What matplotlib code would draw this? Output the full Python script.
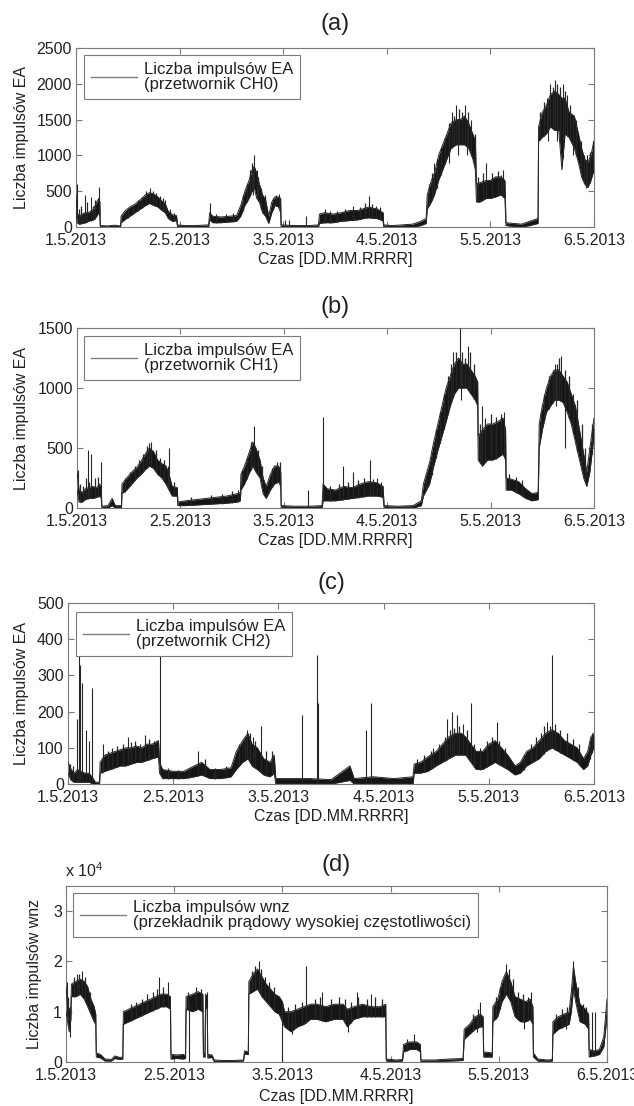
import matplotlib
matplotlib.use("Agg")
import numpy as np
import matplotlib.pyplot as plt
from matplotlib.lines import Line2D
from matplotlib.ticker import FuncFormatter

plt.rcParams['font.family'] = ['Liberation Sans', 'DejaVu Sans']
plt.rcParams['mathtext.fontset'] = 'custom'
plt.rcParams['mathtext.rm'] = 'Liberation Sans'
plt.rcParams['mathtext.it'] = 'Liberation Sans'

# ---------------- data (time in days from 1.5.2013 00:00) ----------------
day_ticks = [0, 1, 2, 3, 4, 5]
day_labels = ["1.5.2013", "2.5.2013", "3.5.2013", "4.5.2013", "5.5.2013", "6.5.2013"]
titles = ["(a)", "(b)", "(c)", "(d)"]
xlabel = "Czas [DD.MM.RRRR]"
ylabels = ["Liczba impulsów EA", "Liczba impulsów EA", "Liczba impulsów EA", "Liczba impulsów wnz"]
legend_labels = ["Liczba impulsów EA\n(przetwornik CH0)",
                 "Liczba impulsów EA\n(przetwornik CH1)",
                 "Liczba impulsów EA\n(przetwornik CH2)",
                 "Liczba impulsów wnz\n(przekładnik prądowy wysokiej częstotliwości)"]

# panel (a) CH0: band lower / upper envelope
t_a = [0.00, 0.01, 0.03, 0.06, 0.09, 0.12, 0.14, 0.17, 0.20, 0.22,
       0.23, 0.235, 0.30, 0.37, 0.43, 0.435, 0.47, 0.52, 0.57, 0.62,
       0.67, 0.71, 0.75, 0.79, 0.83, 0.86, 0.89, 0.93, 0.97, 0.98,
       1.05, 1.15, 1.28, 1.29, 1.32, 1.40, 1.48, 1.55, 1.59, 1.63,
       1.67, 1.70, 1.72, 1.745, 1.77, 1.80, 1.83, 1.86, 1.89, 1.92,
       1.955, 1.975, 1.98, 2.10, 2.25, 2.34, 2.35, 2.40, 2.48, 2.56,
       2.64, 2.72, 2.78, 2.83, 2.87, 2.90, 2.94, 2.965, 2.97, 3.05,
       3.15, 3.25, 3.33, 3.38, 3.39, 3.43, 3.46, 3.50, 3.54, 3.58,
       3.62, 3.67, 3.71, 3.75, 3.79, 3.83, 3.855, 3.865, 3.90, 3.96,
       4.00, 4.05, 4.10, 4.14, 4.15, 4.22, 4.30, 4.38, 4.46, 4.465,
       4.50, 4.54, 4.58, 4.62, 4.66, 4.69, 4.72, 4.76, 4.81, 4.85,
       4.88, 4.91, 4.94, 4.97, 5.00]
lo_a = [250, 60, 40, 50, 60, 80, 90, 100, 150, 200,
        150, 0, 0, 0, 0, 60, 100, 150, 200, 250,
        300, 330, 300, 280, 230, 200, 120, 80, 90, 0,
        0, 0, 0, 100, 60, 60, 70, 80, 150, 300,
        400, 500, 550, 400, 350, 200, 150, 50, 200, 300,
        280, 200, 0, 0, 0, 0, 50, 60, 60, 80,
        90, 100, 120, 130, 120, 120, 100, 80, 0, 0,
        0, 0, 20, 50, 250, 350, 450, 650, 800, 950,
        1100, 1150, 1150, 1150, 1100, 950, 800, 350, 350, 400,
        400, 420, 450, 400, 20, 10, 0, 20, 50, 1200,
        1250, 1300, 1400, 1350, 1350, 800, 1300, 1250, 1100, 900,
        700, 600, 550, 650, 800]
hi_a = [450, 200, 150, 180, 200, 200, 220, 250, 350, 400,
        350, 20, 15, 25, 15, 150, 220, 280, 320, 380,
        450, 480, 460, 420, 360, 330, 220, 170, 160, 30,
        20, 20, 30, 200, 150, 140, 150, 160, 300, 500,
        650, 800, 850, 750, 600, 450, 380, 150, 350, 420,
        420, 400, 30, 20, 20, 30, 180, 200, 180, 200,
        230, 230, 260, 280, 260, 260, 220, 200, 30, 20,
        30, 40, 80, 120, 450, 650, 750, 1000, 1150, 1300,
        1450, 1500, 1500, 1550, 1450, 1300, 1200, 600, 620, 650,
        650, 700, 700, 650, 60, 50, 40, 80, 120, 1400,
        1600, 1700, 1850, 1900, 1850, 1800, 1800, 1600, 1550, 1300,
        1100, 950, 900, 1000, 1200]
spike_t_a = [0.005, 0.09, 0.14, 0.22, 0.71, 0.86, 1.29, 1.72, 1.745, 1.955,
             2.02, 2.06, 2.22, 2.40, 2.67, 2.83, 2.90, 3.46, 3.63, 3.67,
             3.75, 3.81, 3.96, 4.12, 4.55, 4.58, 4.62, 4.70, 4.74, 5.00]
spike_v_a = [600, 450, 420, 560, 540, 380, 330, 1000, 800, 460,
             100, 100, 150, 250, 300, 430, 300, 900, 1600, 1700,
             1700, 1500, 900, 800, 1800, 2000, 2050, 2000, 1850, 1400]
peak_t_a = [0.03, 0.05, 0.07, 0.11, 0.16, 0.18, 0.50, 0.55, 0.60, 0.64,
            0.68, 0.74, 0.77, 0.81, 0.84, 0.91, 0.95, 1.35, 1.45, 1.52,
            1.61, 1.65, 1.68, 1.70, 1.76, 1.79, 1.82, 1.90, 1.93, 2.45,
            2.52, 2.60, 2.74, 2.79, 2.86, 2.93, 3.41, 3.44, 3.48, 3.52,
            3.56, 3.60, 3.65, 3.70, 3.73, 3.78, 3.85, 3.88, 3.93, 4.02,
            4.07, 4.10, 4.48, 4.52, 4.60, 4.64, 4.67, 4.72, 4.77, 4.83,
            4.87, 4.90, 4.93, 4.96, 4.99]
peak_v_a = [250, 300, 200, 350, 300, 380, 260, 300, 380, 420,
            500, 500, 470, 430, 400, 250, 200, 180, 180, 200,
            450, 600, 800, 900, 700, 550, 450, 400, 450, 220,
            230, 250, 280, 330, 320, 280, 600, 750, 950, 1100,
            1250, 1450, 1550, 1650, 1600, 1600, 1300, 700, 750, 750,
            780, 720, 1600, 1750, 1950, 2000, 1950, 1900, 1700, 1500,
            1200, 1000, 1000, 1050, 1200]
dip_t_a = [1.71, 3.60, 3.69, 3.77, 4.56, 4.64, 4.80, 4.92]
dip_v_a = [450, 900, 1000, 1000, 1200, 1200, 1000, 550]

# panel (b) CH1
t_b = [0.00, 0.02, 0.05, 0.08, 0.11, 0.15, 0.19, 0.22, 0.235, 0.24,
       0.30, 0.34, 0.37, 0.43, 0.435, 0.48, 0.53, 0.58, 0.62, 0.66,
       0.70, 0.74, 0.78, 0.82, 0.86, 0.89, 0.92, 0.97, 0.975, 1.05,
       1.15, 1.25, 1.35, 1.45, 1.55, 1.58, 1.585, 1.62, 1.66, 1.70,
       1.73, 1.77, 1.80, 1.83, 1.87, 1.91, 1.95, 1.97, 1.975, 2.10,
       2.25, 2.37, 2.38, 2.42, 2.50, 2.58, 2.66, 2.74, 2.82, 2.90,
       2.96, 2.97, 3.10, 3.25, 3.33, 3.35, 3.41, 3.45, 3.49, 3.53,
       3.57, 3.61, 3.65, 3.69, 3.73, 3.77, 3.81, 3.85, 3.875, 3.88,
       3.92, 3.97, 4.02, 4.07, 4.12, 4.145, 4.15, 4.20, 4.27, 4.34,
       4.40, 4.46, 4.47, 4.50, 4.54, 4.58, 4.62, 4.66, 4.70, 4.74,
       4.78, 4.82, 4.86, 4.90, 4.93, 4.96, 5.00]
lo_b = [150, 50, 50, 70, 80, 80, 90, 100, 80, 0,
        0, 20, 0, 0, 120, 150, 200, 250, 280, 320,
        350, 330, 280, 250, 200, 150, 100, 100, 20, 20,
        25, 30, 35, 40, 50, 60, 150, 200, 280, 350,
        300, 250, 120, 80, 150, 200, 220, 180, 0, 0,
        0, 0, 60, 60, 60, 70, 80, 90, 100, 100,
        90, 0, 0, 0, 20, 100, 200, 350, 480, 600,
        720, 850, 950, 1000, 1000, 1000, 950, 900, 850, 400,
        350, 400, 400, 420, 450, 400, 150, 150, 120, 80,
        60, 70, 500, 650, 800, 850, 900, 900, 880, 800,
        700, 550, 400, 250, 180, 300, 600]
hi_b = [300, 150, 130, 160, 170, 180, 170, 200, 150, 15,
        20, 80, 20, 20, 200, 250, 300, 340, 390, 450,
        500, 470, 400, 370, 350, 280, 180, 170, 50, 60,
        70, 80, 90, 100, 120, 130, 280, 350, 450, 550,
        500, 400, 250, 180, 280, 350, 350, 300, 20, 15,
        15, 20, 200, 160, 150, 180, 170, 200, 220, 210,
        180, 20, 15, 20, 60, 200, 380, 550, 700, 850,
        1000, 1100, 1200, 1250, 1200, 1200, 1150, 1100, 1050, 600,
        650, 700, 700, 720, 750, 650, 250, 240, 220, 160,
        120, 130, 700, 850, 1000, 1100, 1150, 1150, 1100, 1050,
        950, 850, 650, 450, 300, 500, 750]
spike_t_b = [0.005, 0.105, 0.14, 0.23, 0.72, 0.885, 1.56, 1.71, 2.23, 2.38,
             2.57, 2.67, 2.83, 2.90, 3.64, 3.70, 3.78, 3.92, 4.13, 4.62,
             4.68, 4.80]
spike_v_b = [320, 480, 450, 380, 550, 500, 150, 680, 150, 760,
             350, 300, 400, 250, 1300, 1500, 1350, 850, 800, 1200,
             1270, 950]
peak_t_b = [0.03, 0.06, 0.09, 0.12, 0.17, 0.20, 0.46, 0.51, 0.56, 0.60,
            0.64, 0.68, 0.70, 0.76, 0.80, 0.84, 0.88, 0.94, 1.10, 1.30,
            1.40, 1.50, 1.60, 1.64, 1.68, 1.75, 1.79, 1.89, 1.93, 1.96,
            2.45, 2.53, 2.62, 2.72, 2.78, 2.86, 2.94, 3.38, 3.43, 3.47,
            3.51, 3.55, 3.59, 3.62, 3.67, 3.72, 3.75, 3.80, 3.84, 3.90,
            3.95, 4.00, 4.05, 4.10, 4.18, 4.25, 4.30, 4.49, 4.52, 4.56,
            4.60, 4.64, 4.66, 4.72, 4.76, 4.84, 4.88, 4.91, 4.98]
peak_v_b = [200, 180, 250, 220, 250, 260, 250, 300, 350, 400,
            450, 520, 540, 480, 420, 400, 350, 220, 90, 110,
            120, 140, 320, 420, 550, 480, 350, 330, 380, 380,
            180, 200, 220, 230, 250, 240, 220, 250, 450, 650,
            800, 950, 1100, 1200, 1300, 1300, 1250, 1300, 1200, 700,
            750, 780, 760, 780, 280, 260, 230, 800, 950, 1100,
            1150, 1200, 1250, 1150, 1100, 900, 700, 500, 700]
dip_t_b = [3.71, 4.63, 4.72]
dip_v_b = [900, 850, 500]

# panel (c) CH2
t_c = [0.00, 0.03, 0.06, 0.09, 0.12, 0.16, 0.20, 0.24, 0.26, 0.30,
       0.305, 0.35, 0.40, 0.45, 0.50, 0.55, 0.60, 0.65, 0.70, 0.75,
       0.80, 0.86, 0.87, 0.90, 1.00, 1.10, 1.20, 1.27, 1.35, 1.45,
       1.55, 1.60, 1.66, 1.71, 1.75, 1.80, 1.86, 1.92, 1.96, 1.975,
       2.10, 2.30, 2.50, 2.68, 2.72, 2.90, 3.10, 3.28, 3.29, 3.35,
       3.42, 3.50, 3.56, 3.62, 3.68, 3.74, 3.78, 3.83, 3.88, 3.94,
       4.00, 4.06, 4.12, 4.18, 4.25, 4.30, 4.36, 4.42, 4.48, 4.54,
       4.60, 4.66, 4.72, 4.78, 4.84, 4.90, 4.94, 4.97, 5.00]
lo_c = [30, 10, 5, 5, 5, 5, 5, 0, 0, 0,
        30, 35, 40, 45, 50, 50, 55, 60, 60, 65,
        70, 75, 30, 15, 15, 15, 20, 25, 15, 15,
        20, 40, 60, 70, 50, 40, 25, 20, 30, 0,
        0, 0, 0, 10, 0, 0, 0, 0, 30, 30,
        35, 50, 60, 70, 80, 80, 80, 60, 40, 40,
        50, 60, 50, 40, 25, 30, 50, 60, 70, 90,
        100, 90, 80, 70, 60, 40, 50, 80, 100]
hi_c = [60, 40, 30, 40, 35, 30, 30, 15, 5, 5,
        60, 80, 85, 90, 95, 100, 100, 105, 100, 110,
        110, 120, 60, 40, 35, 35, 50, 60, 40, 40,
        45, 90, 120, 140, 110, 100, 70, 60, 80, 15,
        15, 15, 12, 50, 15, 20, 15, 20, 55, 60,
        75, 90, 110, 130, 140, 140, 130, 110, 90, 90,
        110, 120, 100, 80, 50, 60, 90, 100, 120, 140,
        150, 140, 120, 110, 100, 70, 90, 130, 140]
spike_t_c = [0.085, 0.10, 0.115, 0.13, 0.17, 0.20, 0.23, 0.33, 0.57, 0.73,
             0.873, 1.24, 1.70, 1.76, 1.83, 2.22, 2.37, 2.38, 2.83, 2.88,
             3.47, 3.60, 3.65, 3.70, 3.75, 3.83, 4.08, 4.55, 4.60, 4.98]
spike_v_c = [180, 365, 330, 280, 150, 120, 265, 110, 130, 135,
             365, 90, 150, 130, 160, 190, 355, 225, 150, 225,
             100, 180, 200, 190, 165, 225, 170, 170, 355, 140]
peak_t_c = [0.02, 0.05, 0.32, 0.38, 0.42, 0.47, 0.52, 0.60, 0.64, 0.68,
            0.77, 0.82, 0.95, 1.05, 1.15, 1.30, 1.40, 1.50, 1.63, 1.68,
            1.73, 1.78, 1.88, 1.94, 3.32, 3.38, 3.45, 3.53, 3.58, 3.63,
            3.67, 3.72, 3.79, 3.86, 3.92, 3.98, 4.03, 4.10, 4.15, 4.33,
            4.40, 4.45, 4.50, 4.52, 4.58, 4.63, 4.68, 4.74, 4.80, 4.86,
            4.96]
peak_v_c = [55, 50, 70, 90, 100, 105, 110, 115, 120, 110,
            125, 120, 45, 40, 45, 70, 45, 50, 110, 130,
            140, 120, 90, 90, 70, 80, 90, 110, 130, 150,
            155, 160, 150, 110, 100, 120, 130, 120, 100, 80,
            110, 130, 140, 160, 160, 165, 150, 140, 125, 110,
            120]

# panel (d) wnz (counts)
t_d = [0.00, 0.015, 0.03, 0.045, 0.05, 0.09, 0.13, 0.17, 0.20, 0.23,
       0.26, 0.275, 0.28, 0.32, 0.36, 0.42, 0.45, 0.50, 0.525, 0.53,
       0.58, 0.63, 0.68, 0.73, 0.78, 0.83, 0.88, 0.93, 0.965, 0.97,
       1.02, 1.08, 1.105, 1.11, 1.17, 1.22, 1.265, 1.27, 1.285, 1.29,
       1.305, 1.31, 1.35, 1.37, 1.45, 1.55, 1.64, 1.65, 1.685, 1.69,
       1.73, 1.77, 1.81, 1.85, 1.89, 1.93, 1.97, 2.00, 2.02, 2.08,
       2.14, 2.20, 2.26, 2.32, 2.40, 2.48, 2.56, 2.60, 2.66, 2.74,
       2.82, 2.90, 2.955, 2.96, 3.05, 3.11, 3.12, 3.18, 3.24, 3.275,
       3.28, 3.40, 3.55, 3.67, 3.68, 3.73, 3.78, 3.83, 3.855, 3.86,
       3.94, 3.945, 3.99, 4.03, 4.07, 4.11, 4.15, 4.20, 4.25, 4.29,
       4.315, 4.32, 4.36, 4.45, 4.495, 4.50, 4.55, 4.60, 4.65, 4.67,
       4.69, 4.71, 4.75, 4.80, 4.83, 4.835, 4.88, 4.93, 4.97, 5.00]
lo_d = [10000, 8000, 6000, 8500, 13000, 13000, 13500, 12500, 11000, 9500,
        8000, 7500, 1000, 800, 200, 200, 700, 500, 600, 7500,
        8000, 8500, 9000, 9500, 10000, 10500, 11000, 11000, 10500, 600,
        700, 600, 700, 10500, 10000, 10500, 10000, 1000, 1000, 11000,
        10500, 800, 900, 100, 100, 100, 200, 1500, 1500, 13500,
        14000, 14500, 13000, 12000, 11000, 10000, 9500, 8000, 7000, 6000,
        7000, 7500, 8500, 8500, 8000, 8500, 8500, 7000, 8500, 9000,
        9000, 9000, 9000, 200, 100, 200, 2000, 2500, 2500, 2000,
        100, 100, 200, 300, 4500, 5500, 6500, 7000, 7000, 1000,
        1000, 8000, 9000, 12000, 13500, 12000, 9000, 8000, 8000, 8500,
        7500, 1000, 200, 100, 200, 5500, 6500, 7000, 7500, 10000,
        14500, 12000, 8000, 7500, 6500, 1000, 1200, 1500, 3000, 9000]
hi_d = [15000, 11000, 10500, 11000, 15500, 16000, 16500, 16000, 15000, 12500,
        11000, 9500, 1800, 1500, 600, 500, 1200, 900, 1000, 10000,
        10500, 11000, 11500, 12000, 12500, 13000, 13500, 13500, 13000, 1500,
        1400, 1500, 1300, 13000, 13500, 14000, 13500, 1800, 1600, 13500,
        13000, 1500, 1400, 400, 300, 300, 400, 2200, 2000, 16000,
        17500, 18500, 17000, 15500, 14500, 13500, 13000, 12000, 10000, 10000,
        10500, 11000, 11500, 11500, 11000, 11500, 11500, 10500, 11000, 11500,
        11000, 11000, 11500, 600, 400, 500, 3500, 4000, 4000, 3500,
        400, 400, 600, 700, 6500, 7500, 9000, 9500, 9000, 2000,
        1800, 11000, 12500, 16000, 18000, 16000, 13000, 12500, 12000, 12500,
        11000, 1800, 600, 400, 500, 8000, 9000, 9500, 10000, 14000,
        19000, 16000, 11500, 10500, 9500, 2500, 2200, 2500, 5000, 12500]
spike_t_d = [0.005, 0.10, 0.15, 0.86, 0.94, 1.20, 1.30, 1.78, 2.22, 2.37,
             2.69, 2.82, 3.22, 3.83, 4.07, 4.30, 4.69, 4.86, 4.89, 5.00]
spike_v_d = [16000, 17500, 18000, 17000, 16000, 15000, 14000, 20000, 19000, 14000,
             14000, 13500, 5500, 12000, 19500, 14000, 20000, 10000, 10000, 12500]
peak_t_d = [0.02, 0.07, 0.12, 0.18, 0.22, 0.60, 0.65, 0.70, 0.75, 0.80,
            0.84, 0.90, 1.13, 1.25, 1.72, 1.75, 1.80, 1.84, 1.88, 1.92,
            2.05, 2.12, 2.18, 2.30, 2.35, 2.45, 2.52, 2.58, 2.63, 2.70,
            2.78, 2.86, 2.92, 3.15, 3.76, 3.81, 3.97, 4.01, 4.05, 4.09,
            4.13, 4.18, 4.22, 4.27, 4.53, 4.58, 4.63, 4.73, 4.78, 4.81]
peak_v_d = [13000, 17000, 17500, 17000, 14000, 11500, 12000, 12500, 13500, 14000,
            14500, 15000, 14000, 14500, 18000, 19000, 18500, 17000, 16000, 15000,
            11000, 11500, 12000, 12500, 13000, 12500, 13000, 12500, 12000, 13000,
            12500, 13000, 12500, 4500, 9500, 10500, 13000, 15000, 17000, 18500,
            16500, 14000, 13500, 13000, 9500, 10500, 11000, 15000, 11500, 11000]
dip_t_d = [0.035, 2.09, 2.61, 3.80, 4.23, 4.62]
dip_v_d = [5000, 5500, 6000, 6000, 6500, 6500]
drop_t_d = [1.14, 2.00]
drop_v_d = [12000, 12000]

ylims = [(0, 2500), (0, 1500), (0, 500), (0, 35000)]
yticks = [[0, 500, 1000, 1500, 2000, 2500], [0, 500, 1000, 1500],
          [0, 100, 200, 300, 400, 500], [0, 10000, 20000, 30000]]

# ---------------- layout (pixel-derived figure fractions) ----------------
W, H = 634, 1106
boxes_px = [(76, 594, 48, 227), (77, 594, 328, 508), (68, 594, 603, 784), (66, 607, 886, 1062)]
ylabel_x_px = [29, 29, 29, 42]
legend_px = [(84, 55), (84, 336), (76, 612), (73, 893)]
title_pads = [13, 11, 10, 11]

fig = plt.figure(figsize=(W / 100, H / 100), dpi=100)

series = [(t_a, lo_a, hi_a, spike_t_a, spike_v_a, peak_t_a, peak_v_a, dip_t_a, dip_v_a),
          (t_b, lo_b, hi_b, spike_t_b, spike_v_b, peak_t_b, peak_v_b, dip_t_b, dip_v_b),
          (t_c, lo_c, hi_c, spike_t_c, spike_v_c, peak_t_c, peak_v_c, [], []),
          (t_d, lo_d, hi_d, spike_t_d, spike_v_d, peak_t_d, peak_v_d, dip_t_d, dip_v_d)]

band_col = '#161616'
line_col = '#262626'
axis_col = '#7a7a7a'
text_col = '#222222'

for i, (t, lo, hi, st, sv, pt, pv, dt, dv) in enumerate(series):
    l, r, tp, bt = boxes_px[i]
    ax = fig.add_axes([l / W, 1 - bt / H, (r - l) / W, (bt - tp) / H])
    t = np.asarray(t, float); lo = np.asarray(lo, float); hi = np.asarray(hi, float)
    ax.fill_between(t, lo, hi, color=band_col, lw=0, zorder=2)
    ax.plot(t, hi, color=line_col, lw=0.7, zorder=3)
    ax.plot(t, lo, color=line_col, lw=0.7, zorder=3)
    ax.vlines(st, np.interp(st, t, lo), sv, color=line_col, lw=0.8, zorder=3)
    ax.vlines(pt, np.interp(pt, t, lo), pv, color=line_col, lw=0.9, zorder=3)
    if len(dt):
        ax.vlines(dt, dv, np.interp(dt, t, hi), color=line_col, lw=0.8, zorder=3)
    if i == 3:
        ax.vlines(drop_t_d, 0, drop_v_d, color=line_col, lw=0.8, zorder=3)

    ax.set_xlim(0, 5)
    ax.set_ylim(*ylims[i])
    ax.set_xticks(day_ticks)
    ax.set_xticklabels(day_labels)
    ax.set_yticks(yticks[i])
    if i == 3:
        ax.yaxis.set_major_formatter(FuncFormatter(lambda v, p: f"{v / 1e4:g}"))
        ax.text(-0.002, 1.035, r'x 10$^{4}$', transform=ax.transAxes, fontsize=11.5,
                color=text_col, ha='left', va='bottom')
    ax.tick_params(direction='in', length=4, width=0.8, color=axis_col, top=True, right=True,
                   labelsize=11.5, labelcolor=text_col)
    ax.tick_params(axis='x', pad=4)
    ax.tick_params(axis='y', pad=3)
    for sp in ax.spines.values():
        sp.set_color(axis_col)
        sp.set_linewidth(0.8)

    ax.set_title(titles[i], fontsize=17, pad=title_pads[i], color=text_col)
    ax.set_xlabel(xlabel, fontsize=11.5, color=text_col)
    ax.set_ylabel(ylabels[i], fontsize=11.5, color=text_col)
    ax.yaxis.set_label_coords((ylabel_x_px[i] - l) / (r - l), 0.5)
    ax.xaxis.set_label_coords(0.5, -0.14 if i < 3 else -0.155)

    lx, ly = legend_px[i]
    handle = Line2D([], [], color='#808080', lw=1.0)
    leg = ax.legend([handle], [legend_labels[i]], loc='upper left',
                    bbox_to_anchor=((lx - l) / (r - l), (bt - ly) / (bt - tp)),
                    borderaxespad=0, fancybox=False, framealpha=1, edgecolor=axis_col,
                    fontsize=12, handlelength=2.8, handletextpad=0.4, borderpad=0.4,
                    labelspacing=0.2)
    leg.get_frame().set_linewidth(0.8)
    for txt in leg.get_texts():
        txt.set_color(text_col)
        txt.set_linespacing(1.05)
    leg.set_zorder(10)

fig.savefig("out.png", dpi=100)
